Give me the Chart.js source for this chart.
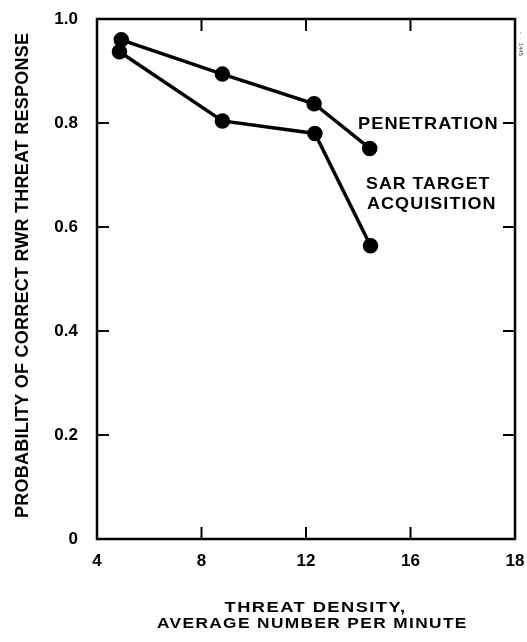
<!DOCTYPE html>
<html>
<head>
<meta charset="utf-8">
<title>RWR threat response</title>
<script src="https://cdn.jsdelivr.net/npm/chart.js@4/dist/chart.umd.min.js"></script>
<style>
    body { margin: 0; background: #fff; }
    #rwrChart { display: block; }
</style>
</head>
<body>
<canvas id="rwrChart" width="527" height="642"></canvas>
<script>
// x axis runs 4..20 in scale units, the last tick is printed "18" as in the original figure
const xTickValues = [4, 8, 12, 16, 20];
const xTickLabels = ['4', '8', '12', '16', '18'];
const yTickValues = [0, 0.2, 0.4, 0.6, 0.8, 1.0];

const penetrationX = [4.93, 8.80, 12.31, 14.44];
const penetrationY = [0.960, 0.894, 0.837, 0.751];
const sarX = [4.86, 8.80, 12.34, 14.47];
const sarY = [0.937, 0.804, 0.780, 0.564];

const FONT = '"Liberation Sans", Arial, Helvetica, sans-serif';

function toPoints(xs, ys) {
    return xs.map((x, i) => ({ x: x, y: ys[i] }));
}

// bold caps text fitted to a target width: a little letter spacing, the rest by widening glyphs
function fitText(ctx, text, x, cy, width, size, align, maxSpacing) {
    ctx.save();
    ctx.font = `bold ${size}px ${FONT}`;
    ctx.letterSpacing = '0px';
    const w = ctx.measureText(text).width;
    const gaps = text.length - 1;
    const ls = Math.max(0, Math.min(maxSpacing, (width - w) / gaps));
    const stretch = (width - ls * gaps) / w;
    ctx.letterSpacing = ls + 'px';
    ctx.textBaseline = 'alphabetic';
    ctx.textAlign = 'left';
    const startX = align === 'center' ? x - width / 2 : x;
    ctx.translate(startX, cy + size * 0.36);
    ctx.scale(stretch, 1);
    ctx.fillText(text, 0, 0);
    ctx.restore();
}

const framePlugin = {
    id: 'frame',
    afterDraw(chart) {
        const { ctx, chartArea: { left, right, top, bottom }, scales: { x, y } } = chart;
        ctx.save();
        ctx.strokeStyle = '#000';
        ctx.lineWidth = 2.5;
        ctx.strokeRect(left, top, right - left, bottom - top);

        // inward tick marks on all four sides
        ctx.lineWidth = 2;
        const tick = 12;
        xTickValues.slice(1, -1).forEach(v => {
            const px = x.getPixelForValue(v);
            ctx.beginPath();
            ctx.moveTo(px, bottom); ctx.lineTo(px, bottom - tick);
            ctx.moveTo(px, top); ctx.lineTo(px, top + tick);
            ctx.stroke();
        });
        yTickValues.slice(1, -1).forEach(v => {
            const py = y.getPixelForValue(v);
            ctx.beginPath();
            ctx.moveTo(left, py); ctx.lineTo(left + tick, py);
            ctx.moveTo(right, py); ctx.lineTo(right - tick, py);
            ctx.stroke();
        });

        ctx.fillStyle = '#000';
        // series labels
        fitText(ctx, 'PENETRATION', 358, 123, 139, 17, 'left', 1);
        fitText(ctx, 'SAR TARGET', 366, 182.5, 123, 17, 'left', 1);
        fitText(ctx, 'ACQUISITION', 367, 203, 128, 17, 'left', 1);

        // axis titles
        fitText(ctx, 'THREAT DENSITY,', 313, 607, 177, 15, 'center', 1.2);
        fitText(ctx, 'AVERAGE NUMBER PER MINUTE', 309.5, 622.5, 305, 15, 'center', 1.2);

        ctx.save();
        ctx.translate(21.5, 275.5);
        ctx.rotate(-Math.PI / 2);
        fitText(ctx, 'PROBABILITY OF CORRECT RWR THREAT RESPONSE', 0, 0, 485, 18, 'center', 1);
        ctx.restore();

        // small figure number on the right margin
        ctx.save();
        ctx.translate(521, 44);
        ctx.rotate(Math.PI / 2);
        ctx.font = `6px ${FONT}`;
        ctx.fillStyle = '#444';
        ctx.textAlign = 'center';
        ctx.textBaseline = 'middle';
        ctx.fillText('-  ·  1445', 0, 0);
        ctx.restore();

        ctx.restore();
    }
};

const lineStyle = {
    borderColor: '#000',
    backgroundColor: '#000',
    borderWidth: 3.5,
    pointRadius: 6,
    pointBackgroundColor: '#000',
    pointBorderColor: '#000',
    showLine: true,
    tension: 0
};

new Chart(document.getElementById('rwrChart'), {
    type: 'scatter',
    data: {
        datasets: [
            { label: 'PENETRATION', data: toPoints(penetrationX, penetrationY), ...lineStyle },
            { label: 'SAR TARGET ACQUISITION', data: toPoints(sarX, sarY), ...lineStyle }
        ]
    },
    options: {
        responsive: false,
        animation: false,
        layout: { autoPadding: false, padding: { top: 19, right: 12, left: 0, bottom: 0 } },
        plugins: {
            legend: { display: false },
            tooltip: { enabled: false }
        },
        scales: {
            x: {
                type: 'linear',
                min: 4,
                max: 20,
                grid: { display: false, drawTicks: false },
                border: { display: false },
                // fixed box; drop the label overhang so the plot edges stay where the figure has them
                afterFit: s => { s.height = 103; s.paddingLeft = 0; s.paddingRight = 0; },
                afterBuildTicks: s => { s.ticks = xTickValues.map(v => ({ value: v })); },
                ticks: {
                    padding: 12,
                    color: '#000',
                    maxRotation: 0,
                    font: { family: FONT, size: 17, weight: 'bold' },
                    callback: v => xTickLabels[xTickValues.indexOf(v)]
                }
            },
            y: {
                type: 'linear',
                min: 0,
                max: 1,
                grid: { display: false, drawTicks: false },
                border: { display: false },
                afterFit: s => { s.width = 97; s.paddingTop = 0; s.paddingBottom = 0; },
                afterBuildTicks: s => { s.ticks = yTickValues.map(v => ({ value: v })); },
                ticks: {
                    padding: 19,
                    color: '#000',
                    font: { family: FONT, size: 17, weight: 'bold' },
                    callback: v => v === 0 ? '0' : v.toFixed(1)
                }
            }
        }
    },
    plugins: [framePlugin]
});
</script>
</body>
</html>
